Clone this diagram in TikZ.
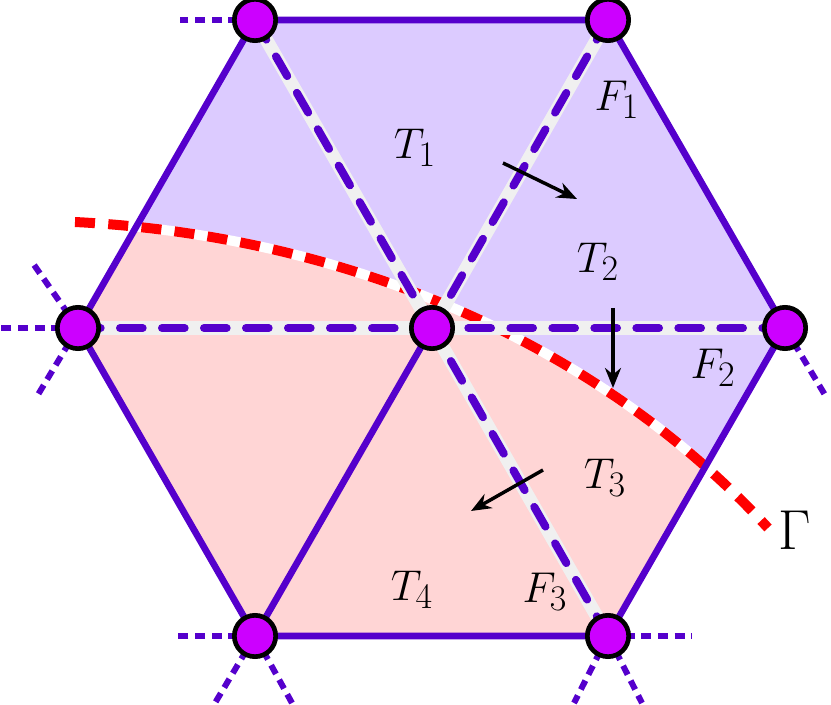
\documentclass[tikz,border=0pt]{standalone}
\usetikzlibrary{arrows.meta}
\definecolor{edgecol}{HTML}{5500CC}
\definecolor{vertcol}{HTML}{CC00FF}
\definecolor{upcol}{HTML}{DCCBFF}
\definecolor{lowcol}{HTML}{FFD5D5}
\newcommand{\bigmath}[1]{\scalebox{1.3}{\Huge$#1$}}
\tikzset{every picture/.style={line width=0.75pt}}
\tikzset{
  edge/.style={draw=edgecol, line width=5pt},
  inner under/.style={draw=black!6, line width=10pt},
  inner dash/.style={draw=edgecol, line width=6pt, line cap=round, dash pattern=on 17pt off 14.5pt},
  stub/.style={draw=edgecol, line width=4.5pt, dash pattern=on 7.5pt off 5pt},
  vertex/.style={circle, fill=vertcol, draw=black, line width=3.5pt, minimum size=31pt, inner sep=0pt},
  normal/.style={draw=black, line width=2.6pt, -{Stealth[length=15pt, width=12pt]}},
  lab/.style={inner sep=0pt}
}
\begin{document}
\begin{tikzpicture}[x=0.75pt,y=0.75pt,yscale=-1,xscale=1]
\useasboundingbox (0,0) rectangle (831,705);

% Coordinates of the vertices
\coordinate (c) at (432,328);
\coordinate (v1) at (255,20);
\coordinate (v2) at (608,20);
\coordinate (v3) at (785,328);
\coordinate (v4) at (608,636);
\coordinate (v5) at (255,636);
\coordinate (v6) at (78,328);

% Fills
\fill [lowcol] (v1) -- (v2) -- (v3) -- (v4) -- (v5) -- (v6) -- cycle;
\begin{scope}
\clip (v1) -- (v2) -- (v3) -- (v4) -- (v5) -- (v6) -- cycle;
\fill [upcol] (75,222) .. controls (350,236) and (600,345) .. (768,528) -- (831,528) -- (831,0) -- (0,0) -- (0,222) -- cycle;
% Interface underlay
\draw [white, line width=7.5pt] (75,222) .. controls (350,236) and (600,345) .. (768,528);
\end{scope}
% Interface
\draw [red, line width=7.5pt, dash pattern=on 15pt off 10pt] (75,222) .. controls (350,236) and (600,345) .. (768,528);

% Outer edges
\draw [edge] (v1) -- (v2) -- (v3) -- (v4) -- (v5) -- (v6) -- cycle;
\draw [edge] (c) -- (v5);

% Inner dashed edges
\foreach \v in {v1,v2,v3,v4,v6}{
  \draw [inner under] (c) -- (\v);
}
\foreach \v in {v1,v2,v3,v4,v6}{
  \draw [inner dash] (\v) -- (c);
}

% Stubs
\draw [stub] (v1) -- (180,20);
\draw [stub] (v6) -- (0,328);
\draw [stub] (v6) -- (32,262);
\draw [stub] (v6) -- (36,398);
\draw [stub] (v3) -- (825,395);
\draw [stub] (v4) -- (692,636);
\draw [stub] (v4) -- (574,703);
\draw [stub] (v4) -- (642,703);
\draw [stub] (v5) -- (172,636);
\draw [stub] (v5) -- (215,703);
\draw [stub] (v5) -- (292,703);

% Normals
\coordinate (n1a) at (503,163); \coordinate (n1b) at (577,199);
\coordinate (n2a) at (613,308); \coordinate (n2b) at (613,388);
\coordinate (n3a) at (543,470); \coordinate (n3b) at (471,511);
\draw [normal] (n1a) -- (n1b);
\draw [normal] (n2a) -- (n2b);
\draw [normal] (n3a) -- (n3b);

% Vertices
\foreach \v in {c,v1,v2,v3,v4,v5,v6}{
  \node [vertex] (p\v) at (\v) {};
}

% Labels
\node [lab] (t1) at (415,148) {\bigmath{T_1}};
\node [lab] (t2) at (598,262) {\bigmath{T_2}};
\node [lab] (t3) at (605,478) {\bigmath{T_3}};
\node [lab] (t4) at (412,590) {\bigmath{T_4}};
\node [lab] (f1) at (617,100) {\bigmath{F_1}};
\node [lab] (f2) at (713,368) {\bigmath{F_2}};
\node [lab] (f3) at (545,592) {\bigmath{F_3}};
\node [lab] (g) at (795,530) {\scalebox{1.7}{\Huge$\Gamma$}};

\end{tikzpicture}
\end{document}
